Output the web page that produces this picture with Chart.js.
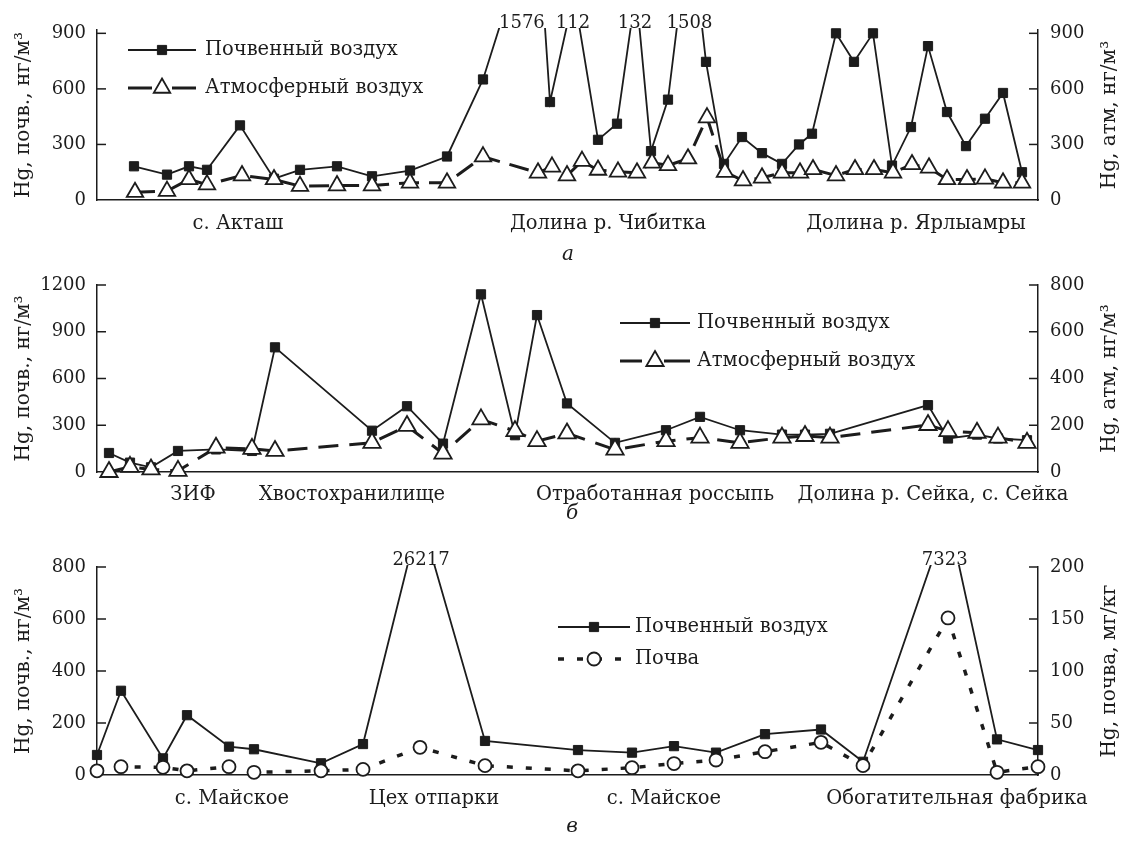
<!DOCTYPE html>
<html lang="ru">
<head>
<meta charset="utf-8">
<title>Hg в почвенном и атмосферном воздухе</title>
<script src="https://cdn.jsdelivr.net/npm/chart.js@4.4.1/dist/chart.umd.min.js"></script>
<style>
  html, body { margin: 0; padding: 0; background: #fff; }
  #wrap { position: relative; width: 1125px; height: 841px; }
  canvas { position: absolute; left: 0; }
</style>
</head>
<body>
<div id="wrap">
  <canvas id="chartA" width="1125" height="262" style="top:0"></canvas>
  <canvas id="chartB" width="1125" height="258" style="top:262px"></canvas>
  <canvas id="chartC" width="1125" height="321" style="top:520px"></canvas>
</div>
<script>
// ---------- данные (позиция точки вдоль профиля, усл. ед.) ----------
// а: Акташ - Чибитка - Ярлыамры
const posSoilA = [37, 70, 92, 110, 143, 177, 203, 240, 275, 313, 350, 386, 440, 453, 477, 501, 520, 539, 554, 571,
                  593, 609, 627, 645, 665, 685, 702, 715, 739, 757, 776, 795, 814, 831, 850, 869, 888, 906, 925];
const soilA = [182, 137, 182, 163, 403, 115, 163, 182, 128, 159, 235, 651, 1576, 529, 1112, 325, 412, 1132, 264, 542,
               1508, 746, 195, 340, 253, 195, 300, 358, 900, 746, 900, 186, 394, 831, 475, 291, 439, 578, 150];
const offScaleTextA = ['1576', '112', '132', '1508']; // подписи как на рисунке
const posAtmA = [38, 70, 92, 110, 145, 177, 203, 240, 275, 313, 350, 386, 441, 455, 470, 485, 501, 521, 540, 555,
                 571, 591, 610, 628, 646, 665, 685, 703, 716, 739, 758, 777, 796, 815, 832, 850, 870, 888, 906, 925];
const atmA = [42, 48, 111, 83, 132, 111, 75, 78, 78, 93, 93, 234, 147, 179, 132, 210, 162, 152, 147, 201,
              187, 223, 445, 151, 105, 120, 147, 147, 165, 132, 165, 165, 147, 192, 174, 111, 111, 114, 93, 93];
const regionPosA = [141, 511, 819];
const regionNamesA = ['с. Акташ', 'Долина р. Чибитка', 'Долина р. Ярлыамры'];
const ticksLeftA = [0, 300, 600, 900];
const ticksRightA = [0, 300, 600, 900];

// б: ЗИФ - хвостохранилище - россыпь - Сейка
const posB = [12, 33, 54, 81, 119, 155, 178, 275, 310, 346, 384, 418, 440, 470, 518, 569, 603, 643, 685, 708,
              733, 831, 851, 880, 901, 930];
const soilB = [122, 60, 30, 135, 145, 135, 800, 265, 422, 182, 1140, 236, 1007, 440, 187, 268, 354, 268, 240, 240,
               245, 429, 215, 240, 215, 204];
const atmB = [0, 22, 11, 5, 104, 99, 90, 125, 197, 79, 225, 175, 132, 165, 96, 132, 147, 125, 147, 154,
              147, 201, 175, 168, 147, 125];
const regionPosB = [96, 255, 558, 836];
const regionNamesB = ['ЗИФ', 'Хвостохранилище', 'Отработанная россыпь', 'Долина р. Сейка, с. Сейка'];
const ticksLeftB = [0, 300, 600, 900, 1200];
const ticksRightB = [0, 200, 400, 600, 800];

// в: Майское - цех отпарки - обогатительная фабрика
const posC = [0, 24, 66, 90, 132, 157, 224, 266, 323, 388, 481, 535, 577, 619, 668, 724, 766, 851, 900, 941];
const soilAirC = [77, 324, 64, 230, 109, 99, 45, 119, 26217, 131, 96, 86, 111, 86, 157, 175, 51, 7323, 137, 96];
const soilC = [4, 8, 7.4, 4, 8, 2.6, 4, 5.4, 26.6, 9, 4, 7, 11, 14.4, 22.4, 31.4, 9, 151, 2.6, 8];
const offScaleCapC = 1000; // выше шкалы: линия доводится до подписи
const regionPosC = [135, 337, 567, 860];
const regionNamesC = ['с. Майское', 'Цех отпарки', 'с. Майское', 'Обогатительная фабрика'];
const ticksLeftC = [0, 200, 400, 600, 800];
const ticksRightC = [0, 50, 100, 150, 200];

// ---------- оформление ----------
const ink = '#1c1c1c';
const serif = '"DejaVu Serif", "Liberation Serif", serif';
Chart.defaults.font.family = serif;
Chart.defaults.font.size = 18;
Chart.defaults.color = ink;

function drawMarker(ctx, style, x, y, r, fill, lw) {
  ctx.beginPath();
  if (style === 'rect') {
    const s = r * Math.SQRT1_2;
    ctx.rect(x - s, y - s, 2 * s, 2 * s);
  } else if (style === 'triangle') {
    let a = 0;
    ctx.moveTo(x + Math.sin(a) * r, y - Math.cos(a) * r);
    a += Math.PI * 2 / 3;
    ctx.lineTo(x + Math.sin(a) * r, y - Math.cos(a) * r);
    a += Math.PI * 2 / 3;
    ctx.lineTo(x + Math.sin(a) * r, y - Math.cos(a) * r);
    ctx.closePath();
  } else {
    ctx.arc(x, y, r, 0, Math.PI * 2);
  }
  ctx.setLineDash([]);
  ctx.fillStyle = fill;
  ctx.fill();
  ctx.lineWidth = lw;
  ctx.strokeStyle = ink;
  ctx.stroke();
}

function vText(ctx, text, x, y) {
  ctx.save();
  ctx.translate(x, y);
  ctx.rotate(-Math.PI / 2);
  ctx.textAlign = 'center';
  ctx.textBaseline = 'middle';
  ctx.fillText(text, 0, 0);
  ctx.restore();
}

// подписи осей, засечки внутрь, легенда, значения вне шкалы, буква панели
const decor = {
  id: 'decor',
  afterDraw(chart, args, o) {
    const ctx = chart.ctx, area = chart.chartArea;
    ctx.save();
    ctx.fillStyle = ink;
    ctx.strokeStyle = ink;

    ['y', 'y2'].forEach(id => {
      const s = chart.scales[id];
      const x0 = id === 'y' ? area.left : area.right;
      const dir = id === 'y' ? 1 : -1;
      ctx.lineWidth = 1.5;
      s.ticks.forEach(t => {
        if (t.value === 0) return;
        const py = s.getPixelForValue(t.value);
        ctx.beginPath();
        ctx.moveTo(x0, py);
        ctx.lineTo(x0 + dir * 9, py);
        ctx.stroke();
      });
    });

    ctx.font = '20px ' + serif;
    const midY = (area.top + area.bottom) / 2;
    vText(ctx, o.leftTitle, 24, midY);
    vText(ctx, o.rightTitle, 1110, midY);

    // легенда
    const lg = o.legend;
    ctx.font = '19.5px ' + serif;
    chart.data.datasets.forEach((ds, k) => {
      const y = lg.y + k * lg.gap;
      ctx.beginPath();
      ctx.setLineDash(ds.legendDash || ds.borderDash || []);
      ctx.lineWidth = ds.borderWidth;
      ctx.moveTo(lg.x, y);
      ctx.lineTo(lg.x + lg.len, y);
      ctx.stroke();
      drawMarker(ctx, ds.pointStyle, lg.x + lg.len / 2, y, ds.pointRadius, ds.pointBackgroundColor, ds.pointBorderWidth);
      ctx.fillStyle = ink;
      ctx.textAlign = 'left';
      ctx.textBaseline = 'middle';
      ctx.fillText(ds.label, lg.textX, y);
    });

    // значения выше шкалы
    if (o.offScale) {
      ctx.font = '18px ' + serif;
      const ds = chart.data.datasets[o.offScale.dataset];
      const meta = chart.getDatasetMeta(o.offScale.dataset);
      const ys = chart.scales[ds.yAxisID];
      const top = area.top;
      let k = 0;
      ds.sourceValues.forEach((v, i) => {
        if (v <= ys.max) return;
        const p = meta.data[i], a = meta.data[i - 1], b = meta.data[i + 1];
        const xa = a.x + (p.x - a.x) * (a.y - top) / (a.y - p.y);
        const xb = b.x + (p.x - b.x) * (b.y - top) / (b.y - p.y);
        const text = o.offScale.texts ? o.offScale.texts[k] : String(v);
        ctx.textAlign = 'center';
        ctx.textBaseline = 'alphabetic';
        ctx.fillText(text, (xa + xb) / 2, top - 2);
        k++;
      });
    }

    ctx.font = 'italic 20px ' + serif;
    ctx.textAlign = 'center';
    ctx.textBaseline = 'middle';
    ctx.fillText(o.caption, o.captionX, o.captionY);
    ctx.restore();
  }
};

function yAxis(position, max, tickValues) {
  return {
    type: 'linear',
    position: position,
    min: 0,
    max: max,
    grid: { display: false, drawTicks: false },
    border: { display: true, color: ink, width: 1.5 },
    ticks: { padding: position === 'left' ? 11 : 12, font: { size: 18 }, callback: v => String(v) },
    afterBuildTicks: s => { s.ticks = tickValues.map(v => ({ value: v })); },
    afterFit: s => { s.width = position === 'left' ? 97 : 87; }
  };
}

function xAxis(regionPos, regionNames, height, pad) {
  return {
    type: 'linear',
    min: 0,
    max: 941,
    grid: { display: false, drawTicks: false },
    border: { display: true, color: ink, width: 1.5 },
    ticks: { autoSkip: false, maxRotation: 0, padding: pad, font: { size: 19.5 },
             callback: (v, i) => regionNames[i] },
    afterBuildTicks: s => { s.ticks = regionPos.map(v => ({ value: v })); },
    afterFit: s => { s.height = height; }
  };
}

function soilAirSet(label, pos, vals, cap) {
  return {
    label: label,
    data: pos.map((x, i) => ({ x: x, y: Math.min(vals[i], cap) })),
    sourceValues: vals,
    yAxisID: 'y',
    order: 1,
    borderColor: ink,
    borderWidth: 1.8,
    tension: 0,
    pointStyle: 'rect',
    pointRadius: 6.5,
    pointBackgroundColor: ink,
    pointBorderColor: ink,
    pointBorderWidth: 1,
    clip: { left: 14, right: 14, top: 2, bottom: 14 }
  };
}

function openSet(label, pos, vals, style, r, dash, width, legendDash) {
  return {
    label: label,
    data: pos.map((x, i) => ({ x: x, y: vals[i] })),
    yAxisID: 'y2',
    order: 0,
    borderColor: ink,
    borderWidth: width,
    borderDash: dash,
    legendDash: legendDash,
    tension: 0,
    pointStyle: style,
    pointRadius: r,
    pointBackgroundColor: '#fff',
    pointBorderColor: ink,
    pointBorderWidth: 1.8,
    clip: { left: 14, right: 14, top: 2, bottom: 14 }
  };
}

function makePanel(id, cfg) {
  return new Chart(document.getElementById(id), {
    type: 'line',
    data: { datasets: cfg.datasets },
    options: {
      responsive: false,
      animation: false,
      events: [],
      layout: { padding: { top: cfg.padTop, left: 0, right: 0, bottom: 0 } },
      scales: {
        x: xAxis(cfg.regionPos, cfg.regionNames, cfg.xHeight, cfg.xPad),
        y: yAxis('left', cfg.yMax, cfg.ticksLeft),
        y2: yAxis('right', cfg.y2Max, cfg.ticksRight)
      },
      plugins: { legend: { display: false }, tooltip: { enabled: false }, decor: cfg.decor }
    },
    plugins: [decor]
  });
}

makePanel('chartA', {
  datasets: [
    soilAirSet('Почвенный воздух', posSoilA, soilA, Infinity),
    openSet('Атмосферный воздух', posAtmA, atmA, 'triangle', 9.5, [20, 10], 3, [24, 20, 24])
  ],
  padTop: 30, xHeight: 62, xPad: 12,
  regionPos: regionPosA, regionNames: regionNamesA,
  yMax: 918, y2Max: 918, ticksLeft: ticksLeftA, ticksRight: ticksRightA,
  decor: {
    leftTitle: 'Hg, почв., нг/м³', rightTitle: 'Hg, атм, нг/м³',
    legend: { x: 128, y: 50, gap: 38, len: 68, textX: 205 },
    offScale: { dataset: 0, texts: offScaleTextA },
    caption: 'а', captionX: 568, captionY: 255
  }
});

makePanel('chartB', {
  datasets: [
    soilAirSet('Почвенный воздух', posB, soilB, Infinity),
    openSet('Атмосферный воздух', posB, atmB, 'triangle', 10, [20, 11], 3, [22, 22, 26])
  ],
  padTop: 23, xHeight: 48, xPad: 11,
  regionPos: regionPosB, regionNames: regionNamesB,
  yMax: 1200, y2Max: 800, ticksLeft: ticksLeftB, ticksRight: ticksRightB,
  decor: {
    leftTitle: 'Hg, почв., нг/м³', rightTitle: 'Hg, атм, нг/м³',
    legend: { x: 620, y: 61, gap: 38, len: 70, textX: 697 },
    caption: 'б', captionX: 572, captionY: 252
  }
});

makePanel('chartC', {
  datasets: [
    soilAirSet('Почвенный воздух', posC, soilAirC, offScaleCapC),
    openSet('Почва', posC, soilC, 'circle', 6.5, [6, 13], 3.5, null)
  ],
  padTop: 47, xHeight: 66, xPad: 12,
  regionPos: regionPosC, regionNames: regionNamesC,
  yMax: 800, y2Max: 200, ticksLeft: ticksLeftC, ticksRight: ticksRightC,
  decor: {
    leftTitle: 'Hg, почв., нг/м³', rightTitle: 'Hg, почва, мг/кг',
    legend: { x: 558, y: 107, gap: 32, len: 72, textX: 635 },
    offScale: { dataset: 0 },
    caption: 'в', captionX: 572, captionY: 307
  }
});
</script>
</body>
</html>
